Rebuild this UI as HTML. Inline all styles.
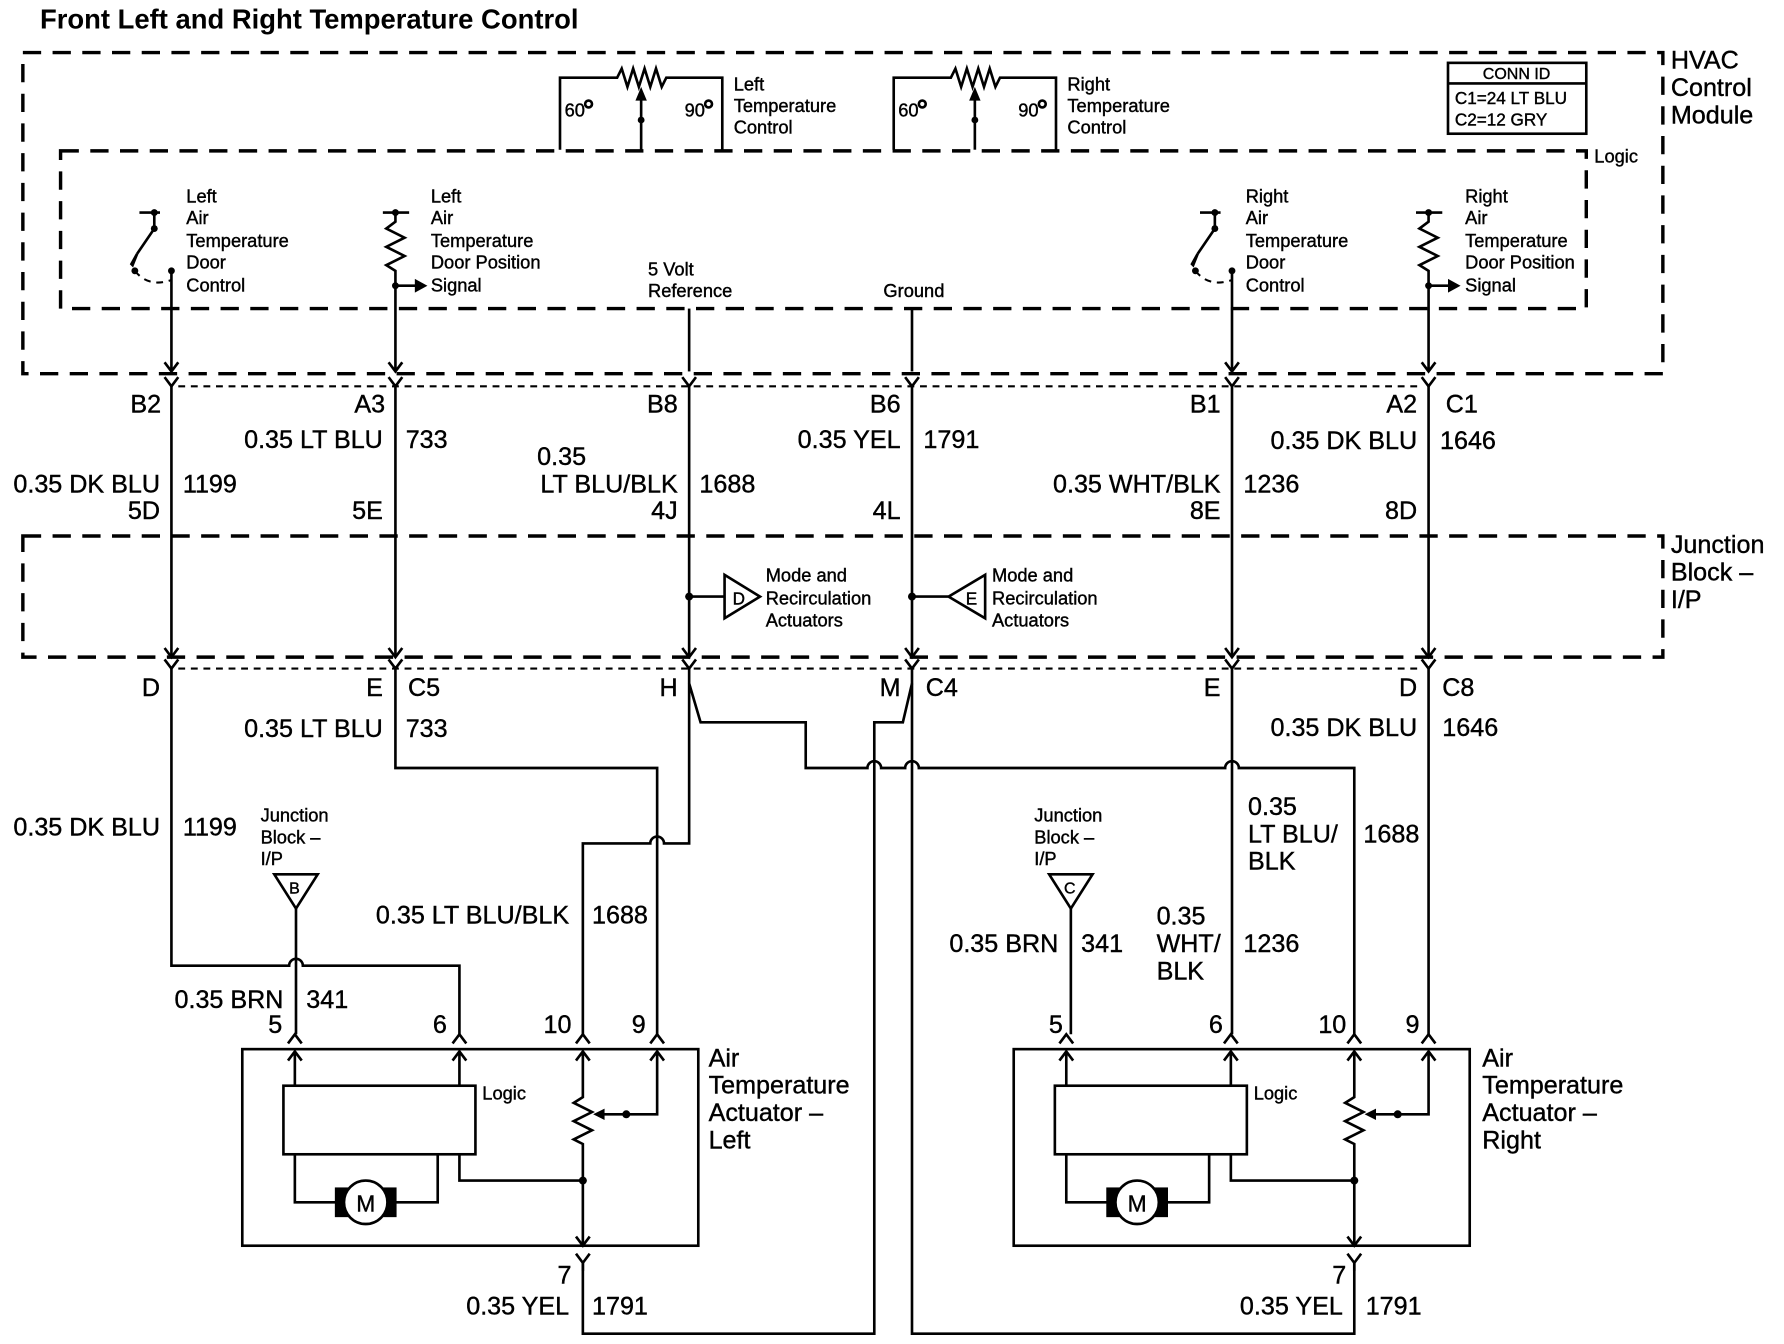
<!DOCTYPE html>
<html><head><meta charset="utf-8"><style>
html,body{margin:0;padding:0;background:#fff;}
svg{display:block;}
text{font-family:"Liberation Sans",Arial,sans-serif;fill:#000;stroke:#000;stroke-width:0.35;}
.b{font-weight:bold;stroke-width:0;}
.w{fill:none;stroke:#000;stroke-width:2.3;}
.d{fill:none;stroke:#000;stroke-width:3;stroke-dasharray:16 10;}
.dd{fill:none;stroke:#000;stroke-width:1.8;stroke-dasharray:6 5;}
.t16{font-size:16px;}
.t21{font-size:22px;}
.t22{font-size:22px;}
.e{text-anchor:end;}
</style></head><body>
<svg width="1784" height="1344" viewBox="0 0 1561 1176" xmlns="http://www.w3.org/2000/svg">
<text x="35" y="25" class="b" font-size="24">Front Left and Right Temperature Control</text>

<rect x="20" y="46" width="1435" height="281" class="d"/>
<text class="t22" x="1462" y="60">HVAC</text>
<text class="t22" x="1462" y="84">Control</text>
<text class="t22" x="1462" y="108">Module</text>
<rect x="53" y="132" width="1335" height="138" class="d"/>
<text class="t16" x="1395" y="142">Logic</text>
<rect x="1267" y="55" width="121" height="62" class="w" stroke-width="3"/>
<line x1="1267" y1="73" x2="1388" y2="73" class="w"/>
<text x="1327" y="69" font-size="14" text-anchor="middle">CONN ID</text>
<text x="1273" y="91" font-size="15">C1=24 LT BLU</text>
<text x="1273" y="110" font-size="15">C2=12 GRY</text>

<g id="pot">
<path class="w" d="M490 131 V68 H540 l4 -8 l5 16 l5 -16 l5 16 l5 -16 l5 16 l5 -16 l5 16 l4 -8 H632 V131"/>
<path class="w" d="M561 131 V80"/><path d="M561 76 l-5 12 h10z"/>
<circle cx="561" cy="105" r="3"/>
<text class="t16" x="494" y="102">60</text><circle cx="515" cy="91" r="3" class="w" stroke-width="1.8"/>
<text class="t16" x="599" y="102">90</text><circle cx="620" cy="91" r="3" class="w" stroke-width="1.8"/>
</g>
<text class="t16" x="642" y="79">Left</text>
<text class="t16" x="642" y="98">Temperature</text>
<text class="t16" x="642" y="117">Control</text>
<use href="#pot" transform="translate(292,0)"/>
<text class="t16" x="934" y="79">Right</text>
<text class="t16" x="934" y="98">Temperature</text>
<text class="t16" x="934" y="117">Control</text>

<g id="sw">
<path class="w" d="M122 186 H140 M135 186 V200 L120 222"/>
<circle cx="135" cy="186" r="3"/><circle cx="135" cy="200" r="3"/><circle cx="118" cy="237" r="3"/><circle cx="150" cy="237" r="3"/>
<path d="M120 222 l-4 10 l-1 -1 z" class="w"/>
<path class="dd" d="M118 237 Q130 252 150 245" stroke-dasharray="3 3"/>
<path class="w" d="M150 237 V325 M144 317 L150 325 L156 317"/>
</g>
<text class="t16" x="163" y="177">Left</text>
<text class="t16" x="163" y="196">Air</text>
<text class="t16" x="163" y="216">Temperature</text>
<text class="t16" x="163" y="235">Door</text>
<text class="t16" x="163" y="255">Control</text>
<use href="#sw" transform="translate(928,0)"/>
<text class="t16" x="1090" y="177">Right</text>
<text class="t16" x="1090" y="196">Air</text>
<text class="t16" x="1090" y="216">Temperature</text>
<text class="t16" x="1090" y="235">Door</text>
<text class="t16" x="1090" y="255">Control</text>

<g id="rs">
<path class="w" d="M335 186 H358 M346 186 V194 l-8 6 l16 8 l-16 8 l16 8 l-16 8 l8 5 V325 M340 317 L346 325 L352 317 M346 250 H364"/>
<circle cx="346" cy="186" r="3"/><circle cx="346" cy="250" r="3"/>
<path d="M374 250 l-11 -6 v12z"/>
</g>
<text class="t16" x="377" y="177">Left</text>
<text class="t16" x="377" y="196">Air</text>
<text class="t16" x="377" y="216">Temperature</text>
<text class="t16" x="377" y="235">Door Position</text>
<text class="t16" x="377" y="255">Signal</text>
<use href="#rs" transform="translate(904,0)"/>
<text class="t16" x="1282" y="177">Right</text>
<text class="t16" x="1282" y="196">Air</text>
<text class="t16" x="1282" y="216">Temperature</text>
<text class="t16" x="1282" y="235">Door Position</text>
<text class="t16" x="1282" y="255">Signal</text>

<text class="t16" x="567" y="241">5 Volt</text>
<text class="t16" x="567" y="260">Reference</text>
<path class="w" d="M603 270 V325"/>
<text class="t16" x="773" y="260">Ground</text>
<path class="w" d="M798 270 V325"/>

<path class="dd" d="M156 338 H1244"/>
<path class="w" d="M144 330 L150 338 L156 330 M340 330 L346 338 L352 330 M597 330 L603 338 L609 330 M792 330 L798 338 L804 330 M1072 330 L1078 338 L1084 330 M1244 330 L1250 338 L1256 330"/>
<text class="t21 e" x="141" y="361">B2</text>
<text class="t21 e" x="337" y="361">A3</text>
<text class="t21 e" x="593" y="361">B8</text>
<text class="t21 e" x="788" y="361">B6</text>
<text class="t21 e" x="1068" y="361">B1</text>
<text class="t21 e" x="1240" y="361">A2</text>
<text class="t21" x="1265" y="361">C1</text>

<path class="w" d="M150 338 V575 M346 338 V575 M603 338 V575 M798 338 V575 M1078 338 V575 M1250 338 V575"/>
<path class="w" d="M144 567 L150 575 L156 567 M340 567 L346 575 L352 567 M597 567 L603 575 L609 567 M792 567 L798 575 L804 567 M1072 567 L1078 575 L1084 567 M1244 567 L1250 575 L1256 567"/>

<text class="t21 e" x="335" y="392">0.35 LT BLU</text><text class="t21" x="355" y="392">733</text>
<text class="t21 e" x="140" y="431">0.35 DK BLU</text><text class="t21" x="160" y="431">1199</text>
<text class="t21 e" x="140" y="454">5D</text>
<text class="t21 e" x="335" y="454">5E</text>
<text class="t21" x="470" y="407">0.35</text>
<text class="t21 e" x="593" y="431">LT BLU/BLK</text><text class="t21" x="612" y="431">1688</text>
<text class="t21 e" x="593" y="454">4J</text>
<text class="t21 e" x="788" y="392">0.35 YEL</text><text class="t21" x="808" y="392">1791</text>
<text class="t21 e" x="788" y="454">4L</text>
<text class="t21 e" x="1068" y="431">0.35 WHT/BLK</text><text class="t21" x="1088" y="431">1236</text>
<text class="t21 e" x="1068" y="454">8E</text>
<text class="t21 e" x="1240" y="393">0.35 DK BLU</text><text class="t21" x="1260" y="393">1646</text>
<text class="t21 e" x="1240" y="454">8D</text>

<rect x="20" y="469" width="1435" height="106" class="d"/>
<text class="t22" x="1462" y="484">Junction</text>
<text class="t22" x="1462" y="508">Block –</text>
<text class="t22" x="1462" y="532">I/P</text>
<circle cx="603" cy="522" r="3.5"/>
<path class="w" d="M603 522 H634 M634 503 V541 L665 522 Z"/>
<text x="641" y="529" font-size="15">D</text>
<text class="t16" x="670" y="509">Mode and</text>
<text class="t16" x="670" y="529">Recirculation</text>
<text class="t16" x="670" y="548">Actuators</text>
<circle cx="798" cy="522" r="3.5"/>
<path class="w" d="M798 522 H830 M862 503 V541 L830 522 Z"/>
<text x="845" y="529" font-size="15">E</text>
<text class="t16" x="868" y="509">Mode and</text>
<text class="t16" x="868" y="529">Recirculation</text>
<text class="t16" x="868" y="548">Actuators</text>

<path class="dd" d="M156 585 H1244"/>
<path class="w" d="M144 577 L150 585 L156 577 M340 577 L346 585 L352 577 M597 577 L603 585 L609 577 M792 577 L798 585 L804 577 M1072 577 L1078 585 L1084 577 M1244 577 L1250 585 L1256 577"/>
<text class="t21 e" x="140" y="609">D</text>
<text class="t21 e" x="335" y="609">E</text><text class="t21" x="357" y="609">C5</text>
<text class="t21 e" x="593" y="609">H</text>
<text class="t21 e" x="788" y="609">M</text><text class="t21" x="810" y="609">C4</text>
<text class="t21 e" x="1068" y="609">E</text>
<text class="t21 e" x="1240" y="609">D</text><text class="t21" x="1262" y="609">C8</text>

<path class="w" d="M150 585 V845 H253 A6 6 0 0 1 265 845 H402 V905"/>
<path class="w" d="M346 585 V672 H575 V905"/>
<path class="w" d="M510 905 V738 H569 A6 6 0 0 1 581 738 H603 V585"/>
<path class="w" d="M603 598 L613 632 H705 V672 H759 A6 6 0 0 1 771 672 H792 A6 6 0 0 1 804 672 H1072 A6 6 0 0 1 1084 672 H1185 V905"/>
<path class="w" d="M798 598 L790 632 H765 V1167 H510 V1105"/>
<path class="w" d="M798 585 V1167 H1185 V1105"/>
<path class="w" d="M1078 585 V905 M1250 585 V905"/>
<path class="w" d="M259 795 V905 M937 795 V905"/>
<path class="w" d="M240 765 H278 L259 795 Z M918 765 H956 L937 795 Z"/>
<text x="253" y="782" font-size="14">B</text>
<text x="931" y="782" font-size="14">C</text>

<text class="t21 e" x="335" y="645">0.35 LT BLU</text><text class="t21" x="355" y="645">733</text>
<text class="t21 e" x="140" y="731">0.35 DK BLU</text><text class="t21" x="160" y="731">1199</text>
<text class="t16" x="228" y="719">Junction</text>
<text class="t16" x="228" y="738">Block –</text>
<text class="t16" x="228" y="757">I/P</text>
<text class="t21 e" x="498" y="808">0.35 LT BLU/BLK</text><text class="t21" x="518" y="808">1688</text>
<text class="t21 e" x="248" y="882">0.35 BRN</text><text class="t21" x="268" y="882">341</text>

<text class="t21 e" x="1240" y="644">0.35 DK BLU</text><text class="t21" x="1262" y="644">1646</text>
<text class="t16" x="905" y="719">Junction</text>
<text class="t16" x="905" y="738">Block –</text>
<text class="t16" x="905" y="757">I/P</text>
<text class="t21" x="1092" y="713">0.35</text>
<text class="t21" x="1092" y="737">LT BLU/</text>
<text class="t21" x="1092" y="761">BLK</text>
<text class="t21" x="1193" y="737">1688</text>
<text class="t21" x="1012" y="809">0.35</text>
<text class="t21" x="1012" y="833">WHT/</text>
<text class="t21" x="1012" y="857">BLK</text>
<text class="t21" x="1088" y="833">1236</text>
<text class="t21 e" x="926" y="833">0.35 BRN</text><text class="t21" x="946" y="833">341</text>

<g id="act">
<rect x="212" y="918" width="399" height="172" class="w" stroke-width="3"/>
<path class="w" d="M252 913 L258 905 L264 913 M396 913 L402 905 L408 913 M504 913 L510 905 L516 913 M569 913 L575 905 L581 913"/>
<path class="w" d="M258 950 V920 M252 928 L258 920 L264 928 M402 950 V920 M396 928 L402 920 L408 928 M510 920 V960 l-8 5 l16 8 l-16 8 l16 8 l-16 8 l8 4 V1090 M504 1082 L510 1090 L516 1082 M504 928 L510 920 L516 928 M575 920 V975 H525 M569 928 L575 920 L581 928"/>
<path d="M519 975 l10 -5 v10z"/>
<circle cx="548" cy="975" r="3.5"/>
<rect x="248" y="950" width="168" height="60" class="w" stroke-width="3"/>
<text class="t16" x="422" y="962">Logic</text>
<path class="w" d="M258 1010 V1052 H300 M340 1052 H383 V1010 M402 1010 V1033 H510"/>
<circle cx="510" cy="1033" r="3.5"/>
<rect x="293" y="1039" width="54" height="26"/>
<circle cx="320" cy="1052" r="19" fill="#fff" stroke="#000" stroke-width="2.3"/>
<text x="320" y="1060" font-size="20" text-anchor="middle">M</text>
<path class="w" d="M504 1097 L510 1105 L516 1097 M510 1105 V1112"/>
</g>
<text class="t21 e" x="247" y="904">5</text>
<text class="t21 e" x="391" y="904">6</text>
<text class="t21 e" x="500" y="904">10</text>
<text class="t21 e" x="565" y="904">9</text>
<text class="t21 e" x="500" y="1123">7</text>
<text class="t21 e" x="498" y="1150">0.35 YEL</text><text class="t21" x="518" y="1150">1791</text>
<text class="t22" x="620" y="933">Air</text>
<text class="t22" x="620" y="957">Temperature</text>
<text class="t22" x="620" y="981">Actuator –</text>
<text class="t22" x="620" y="1005">Left</text>

<use href="#act" transform="translate(675,0)"/>
<text class="t21 e" x="930" y="904">5</text>
<text class="t21 e" x="1070" y="904">6</text>
<text class="t21 e" x="1178" y="904">10</text>
<text class="t21 e" x="1242" y="904">9</text>
<text class="t21 e" x="1178" y="1123">7</text>
<text class="t21 e" x="1175" y="1150">0.35 YEL</text><text class="t21" x="1195" y="1150">1791</text>
<text class="t22" x="1297" y="933">Air</text>
<text class="t22" x="1297" y="957">Temperature</text>
<text class="t22" x="1297" y="981">Actuator –</text>
<text class="t22" x="1297" y="1005">Right</text>
</svg>
</body></html>
